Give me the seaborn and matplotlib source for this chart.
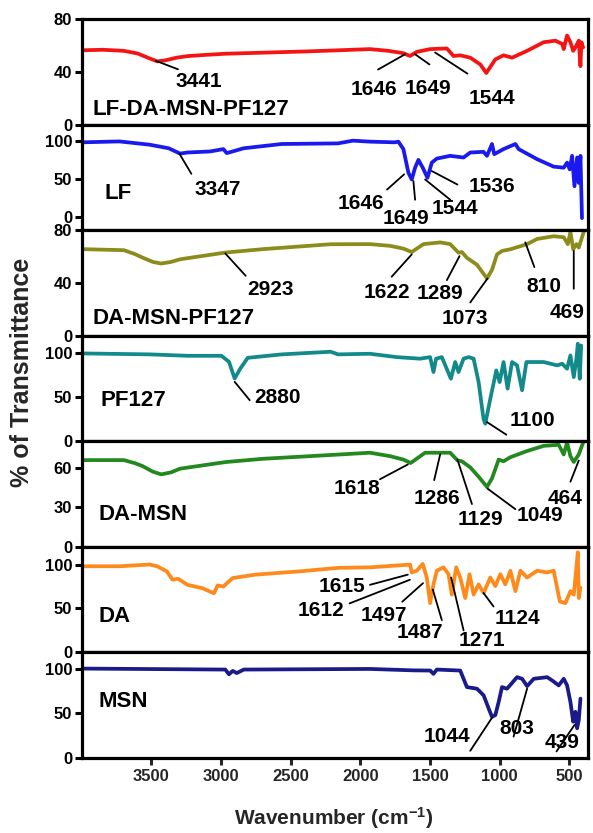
import matplotlib
matplotlib.use("Agg")
import matplotlib.pyplot as plt
import seaborn as sns
import pandas as pd

# ---------------- data ----------------
names = ["LF-DA-MSN-PF127", "LF", "DA-MSN-PF127", "PF127", "DA-MSN", "DA", "MSN"]
colors = ["#F41414", "#1A1AEE", "#8C8C1C", "#128A8A", "#23891F", "#FF8A1C", "#1A1A8A"]

wn_lfdamsnpf = [4000, 3850, 3700, 3600, 3520, 3458, 3400, 3320, 3241, 3100, 2970, 2700, 2400, 2160, 1932,
                1800, 1692, 1644, 1596, 1500, 1380, 1332, 1284, 1212, 1140, 1097, 1032, 973, 912, 804,
                685, 601, 552, 541, 517, 493, 473, 457, 433, 421, 414, 402]
t_lfdamsnpf = [56.4, 56.8, 56.0, 54.0, 50.5, 48.0, 48.8, 50.8, 52.0, 53.0, 53.8, 54.6, 55.5, 56.4, 57.3,
               56.0, 54.2, 52.1, 55.2, 57.3, 57.8, 52.1, 52.6, 50.8, 45.7, 39.2, 49.5, 52.6, 50.8, 56.0,
               62.5, 63.7, 61.2, 57.3, 67.6, 62.5, 56.0, 58.6, 63.7, 44.4, 62.5, 58.6]

wn_lf = [4000, 3730, 3514, 3377, 3295, 3241, 3079, 2984, 2960, 2838, 2565, 2162, 2054, 1932, 1754, 1728,
         1692, 1656, 1632, 1608, 1584, 1553, 1519, 1488, 1452, 1356, 1260, 1212, 1117, 1092, 1056, 1040,
         973, 888, 865, 732, 613, 541, 517, 498, 481, 464, 445, 433, 421, 410]
t_lf = [97.8, 99, 94.7, 90, 83, 84.4, 85.8, 88.9, 83.6, 90, 95.6, 96.4, 100, 98.7, 97.8, 98.7,
        88.9, 57.8, 48.9, 64.4, 74.7, 64.4, 51.1, 71.1, 76.4, 80, 77.8, 84.4, 85.3, 80, 95.6, 82.2,
        88.9, 95.6, 88.9, 75.6, 65.8, 64.4, 71.1, 62.2, 80, 40, 77.8, 44.4, 80, -2]

wn_damsnpf = [4000, 3698, 3620, 3565, 3490, 3430, 3360, 3295, 2970, 2700, 2216, 1932, 1788, 1692, 1632,
              1548, 1428, 1356, 1296, 1272, 1236, 1164, 1092, 1056, 1020, 984, 924, 804, 732, 613, 541,
              512, 493, 473, 450, 433, 397]
t_damsnpf = [65.7, 64.9, 62.0, 59.3, 56.0, 54.8, 56.0, 58.0, 63.1, 65.7, 69.4, 69.5, 68.2, 66.1, 63.5,
             69.5, 70.8, 69.5, 63.0, 63.5, 59.1, 53.9, 43.5, 50.0, 61.7, 64.3, 65.6, 69.5, 73.4, 75.5, 74.7,
             69.5, 78.6, 65.6, 69.5, 66.9, 79.0]

wn_pf = [4000, 3514, 3241, 2998, 2944, 2903, 2862, 2809, 2565, 2214, 2160, 1932, 1740, 1572, 1500, 1476,
         1457, 1416, 1351, 1320, 1296, 1260, 1224, 1188, 1152, 1117, 1104, 1068, 1025, 1001, 973, 944,
         912, 876, 840, 809, 685, 588, 552, 517, 493, 469, 450, 440, 426, 416]
t_pf = [100, 98.9, 97.3, 97.3, 90.5, 71.5, 82.9, 95, 98.9, 101.9, 98.9, 99.6, 95.8, 94, 95.8, 78.8,
        94, 95.8, 71.2, 90.2, 78.8, 94, 95.8, 94, 67.4, 25.8, 20.1, 48.5, 80.7, 67.4, 90.2, 59.9,
        90.2, 86.4, 58.1, 90.2, 90.2, 86.4, 88.3, 82.6, 97.7, 73.1, 94, 111, 71.2, 109]

wn_damsn = [4000, 3698, 3620, 3565, 3490, 3430, 3360, 3295, 2970, 2700, 2160, 1932, 1788, 1692, 1640,
            1536, 1428, 1356, 1303, 1272, 1212, 1152, 1092, 1056, 1008, 973, 924, 804, 685, 577, 541,
            517, 493, 469, 433, 397]
t_damsn = [65.8, 65.8, 63.5, 61.3, 57.0, 55.0, 56.5, 59.3, 64.3, 66.8, 70.0, 71.4, 68.8, 66.2, 63.6,
           71.4, 71.4, 71.4, 65.5, 64.9, 60.3, 53.2, 45.5, 51.9, 66.2, 64.9, 68.0, 72.7, 76.6, 77.4, 70.1,
           79.2, 68.8, 64.4, 70.1, 80.5]

wn_da = [4000, 3730, 3514, 3460, 3390, 3349, 3309, 3241, 3133, 3052, 3025, 2984, 2917, 2754, 2430, 2160,
         1932, 1644, 1632, 1596, 1553, 1524, 1500, 1476, 1452, 1404, 1368, 1344, 1313, 1284, 1248, 1217,
         1188, 1152, 1116, 1068, 1032, 996, 960, 924, 888, 852, 804, 732, 660, 613, 569, 529, 493, 469,
         450, 440, 433, 421]
t_da = [98, 98, 100, 98, 92.3, 82.7, 83.8, 76.9, 73, 67.3, 76.2, 75, 84.6, 88.5, 92.3, 96.2,
        96.8, 99.9, 91, 92.9, 100.7, 85.2, 56.1, 77.4, 92.9, 96.8, 89, 65.8, 96.8, 85.2, 61.9, 89,
        65.8, 77.4, 67.7, 85.2, 75.5, 89, 77.4, 92.9, 69.7, 92.9, 85.2, 92.9, 91, 92.9, 58.1, 56.1, 69.7, 65.8,
        96.8, 114, 61.9, 73.6]

wn_msn = [4000, 2970, 2944, 2917, 2888, 2837, 1932, 1619, 1500, 1476, 1452, 1284, 1236, 1164, 1116, 1080,
          1056, 1032, 1008, 984, 948, 876, 840, 804, 756, 660, 624, 577, 541, 517, 493, 473, 457, 445,
          433, 421]
t_msn = [100, 98.9, 93.6, 97.4, 95, 98.9, 99.6, 98, 97.8, 94.1, 98.9, 97.8, 79.3, 77.5, 70.1, 55.4,
         46.1, 48, 62.7, 79.3, 77.5, 90.4, 88.6, 80.4, 88.6, 90.4, 86.7, 81.2, 88.6, 81.2, 62.7, 40.6, 51.7, 33.2,
         42.4, 66.4]

series_wn = [wn_lfdamsnpf, wn_lf, wn_damsnpf, wn_pf, wn_damsn, wn_da, wn_msn]
series_t = [t_lfdamsnpf, t_lf, t_damsnpf, t_pf, t_damsn, t_da, t_msn]

ylims = [(0, 80), (-18, 121), (0, 80), (0, 120), (0, 80), (0, 120), (0, 118)]
yticks = [[0, 40, 80], [0, 50, 100], [0, 40, 80], [0, 50, 100], [0, 30, 60], [0, 50, 100], [0, 50, 100]]
xticks = [3500, 3000, 2500, 2000, 1500, 1000, 500]

# panel name label positions (axes fraction)
name_pos = [(0.022, 0.14), (0.045, 0.35), (0.022, 0.16), (0.037, 0.39), (0.033, 0.31), (0.033, 0.34), (0.033, 0.54)]

# peak annotations: (label, text x, text y, line x0, y0, x1, y1) in data units
ann = [
    [("3441", 3162, 33, 3470, 48.5, 3310, 42), ("1646", 1905, 26.5, 1874, 41.8, 1680, 53.4),
     ("1649", 1514, 27.6, 1608, 53.4, 1505, 45.7), ("1544", 1056, 19.9, 1464, 54.7, 1232, 38.7)],
    [("3347", 3025, 35.6, 3300, 83, 3214, 56.4), ("1646", 1997, 17.8, 1809, 35.6, 1687, 55.6),
     ("1649", 1673, -2.2, 1620, 46.7, 1608, 22.2), ("1544", 1320, 11, 1536, 48.9, 1356, 22.2),
     ("1536", 1056, 40, 1488, 60, 1304, 42.2)],
    [("2923", 2646, 35.4, 2970, 62.4, 2824, 45.5), ("1622", 1809, 32.8, 1776, 44.8, 1632, 61.7),
     ("1289", 1428, 31.8, 1380, 42.2, 1289, 60.4), ("1073", 1248, 13.5, 1212, 25.3, 1088, 43.5),
     ("810", 685, 37, 817, 70.8, 752, 52.1), ("469", 517, 17.4, 469, 64.3, 469, 35.7)],
    [("2880", 2593, 49.4, 2903, 67.7, 2795, 46.8), ("1100", 768, 23.9, 1092, 21.9, 953, 7.6)],
    [("1618", 2025, 44.3, 1860, 51.3, 1660, 62.5), ("1286", 1452, 36.9, 1471, 50.6, 1428, 70.1),
     ("1129", 1140, 20.8, 1304, 66.2, 1200, 32.5), ("1049", 709, 23.9, 1088, 44.2, 888, 28.6),
     ("464", 529, 36.9, 493, 49.4, 433, 65.5)],
    [("1615", 2133, 75, 1932, 76.9, 1660, 88.5), ("1612", 2281, 48, 2078, 55.8, 1645, 82.7),
     ("1497", 1835, 41.5, 1700, 57.7, 1551, 78.8), ("1487", 1572, 23.2, 1481, 71.6, 1416, 36.8),
     ("1271", 1128, 13.5, 1349, 85.2, 1260, 25.2), ("1124", 876, 38.7, 1117, 67.7, 1045, 52.3)],
    [("1044", 1380, 24, 1212, 8.1, 1056, 45), ("803", 876, 33.2, 804, 77.5, 901, 24),
     ("439", 552, 17.7, 593, 7.4, 464, 36.9)],
]

# ---------------- style ----------------
sns.set_theme(style="ticks")
plt.rcParams["font.family"] = ["Liberation Sans", "DejaVu Sans"]
plt.rcParams["font.weight"] = "bold"
plt.rcParams["axes.labelweight"] = "bold"
plt.rcParams["mathtext.fontset"] = "custom"
plt.rcParams["mathtext.rm"] = "Liberation Sans:bold"
plt.rcParams["mathtext.it"] = "Liberation Sans:bold"
plt.rcParams["mathtext.bf"] = "Liberation Sans:bold"

fig, axes = plt.subplots(7, 1, figsize=(5.93, 8.33), dpi=100, sharex=True,
                         gridspec_kw=dict(hspace=0))
fig.subplots_adjust(left=0.138, right=0.992, top=0.977, bottom=0.090)

for i, ax in enumerate(axes):
    df = pd.DataFrame({"wn": series_wn[i], "T": series_t[i]})
    sns.lineplot(data=df, x="wn", y="T", ax=ax, color=colors[i], linewidth=2.7,
                 estimator=None, sort=False, legend=False)
    ax.set_xlim(4000, 365)
    ax.set_ylim(*ylims[i])
    ax.set_yticks(yticks[i])
    ax.set_xlabel("")
    ax.set_ylabel("")
    for s in ax.spines.values():
        s.set_visible(True)
        s.set_linewidth(2.3)
        s.set_color("black")
    ax.tick_params(axis="y", direction="out", length=5, width=2.2, labelsize=12, pad=2, colors="black")
    ax.tick_params(axis="x", direction="out", length=5, width=2.2, labelsize=12, pad=3,
                   bottom=(i == 6), labelbottom=(i == 6))
    for lab in ax.get_yticklabels() + ax.get_xticklabels():
        lab.set_fontweight("bold")
    ax.text(name_pos[i][0], name_pos[i][1], names[i], transform=ax.transAxes,
            fontsize=16, fontweight="bold", ha="left", va="center", color="black")
    for (lab, tx, ty, x0, y0, x1, y1) in ann[i]:
        ax.annotate("", xy=(x1, y1), xytext=(x0, y0),
                    arrowprops=dict(arrowstyle="-", lw=1.3, color="black", shrinkA=0, shrinkB=0))
        ax.text(tx, ty, lab, fontsize=15, fontweight="bold", ha="center", va="center", color="black")

axes[-1].set_xticks(xticks)
axes[-1].set_xticklabels([str(v) for v in xticks])
for lab in axes[-1].get_xticklabels():
    lab.set_fontweight("bold")

fig.text(0.563, 0.018, r"Wavenumber (cm$^{-1}$)", ha="center", va="center", fontsize=15, fontweight="bold")
fig.text(0.037, 0.553, "% of Transmittance", ha="center", va="center", rotation=90, fontsize=18,
         fontweight="bold")

fig.savefig("out.png", dpi=100)
